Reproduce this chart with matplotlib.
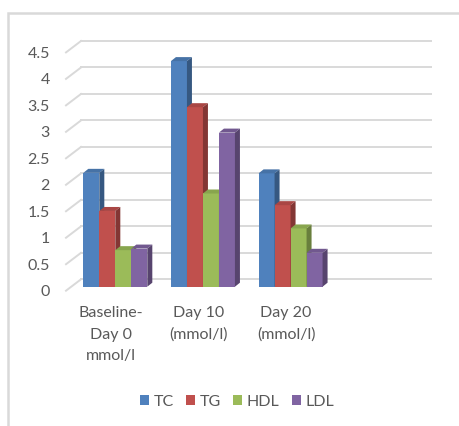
import numpy as np
import matplotlib
matplotlib.use("Agg")
import matplotlib.pyplot as plt
from matplotlib.patches import Polygon, Rectangle
from matplotlib.transforms import ScaledTranslation
from matplotlib.colors import to_rgb

plt.rcParams['font.family'] = ['Lato', 'DejaVu Sans']

categories = ['Baseline-\nDay 0\nmmol/l', 'Day 10\n(mmol/l)', 'Day 20\n(mmol/l)', '']
series = ['TC', 'TG', 'HDL', 'LDL']
tc = [2.15, 4.26, 2.14]
tg = [1.43, 3.39, 1.54]
hdl = [0.69, 1.76, 1.10]
ldl = [0.72, 2.91, 0.64]
colors = ['#4F81BD', '#C0504D', '#9BBB59', '#8064A2']
yticks = [0, 0.5, 1, 1.5, 2, 2.5, 3, 3.5, 4, 4.5]
ytick_labels = ['0', '0.5', '1', '1.5', '2', '2.5', '3', '3.5', '4', '4.5']

values = [tc, tg, hdl, ldl]
text_col = '#595959'
grid_col = '#D9D9D9'
fs = 11.5

W, H, dpi = 460, 426, 100
fig = plt.figure(figsize=(W / dpi, H / dpi), dpi=dpi)

# plot area in pixels (bar front plane)
x0_px, x1_px = 71.5, 422.0
y0_px, y1_px = 286.7, 48.4
ax = fig.add_axes([x0_px / W, 1 - y0_px / H, (x1_px - x0_px) / W, (y0_px - y1_px) / H])
ax.set_xlim(-0.5, 3.5)
ax.set_ylim(0, 4.5)
for s in ax.spines.values():
    s.set_visible(False)

px_x = (x1_px - x0_px) / 4.0   # pixels per category
px_y = (y0_px - y1_px) / 4.5   # pixels per unit

def dx(p):
    return p / px_x

def dy(p):
    return p / px_y

# gridlines: back wall plus the diagonal on the left side wall
for v in yticks:
    ax.plot([-0.5 + dx(9.5), 3.5 + dx(9.5)], [v + dy(7.4), v + dy(7.4)],
            color=grid_col, lw=1.4, clip_on=False, zorder=1)
    ax.plot([-0.5 - dx(5.5), -0.5 + dx(9.5)], [v - dy(4), v + dy(7.4)],
            color=grid_col, lw=1.4, clip_on=False, zorder=1)

def shade(c, f):
    r, g, b = to_rgb(c)
    return (r * f, g * f, b * f)

bw = 16 / px_x
ddx, ddy = dx(5), dy(4)
x = np.arange(3)
for i, (name, vals, col) in enumerate(zip(series, values, colors)):
    xs = x + (i - 1.5) * bw
    z = 3 + i
    ax.bar(xs, vals, width=bw, color=col, zorder=z, label=name, linewidth=0)
    for xc, h in zip(xs, vals):
        l, r = xc - bw / 2, xc + bw / 2
        top = Polygon([(l, h), (r, h), (r + ddx, h + ddy), (l + ddx, h + ddy)],
                      closed=True, facecolor=shade(col, 0.88), edgecolor='none', zorder=z)
        side = Polygon([(r, 0), (r + ddx, ddy), (r + ddx, h + ddy), (r, h)],
                       closed=True, facecolor=shade(col, 0.68), edgecolor='none', zorder=z)
        ax.add_patch(top)
        ax.add_patch(side)

ax.set_yticks(yticks)
ax.set_yticklabels(ytick_labels)
ax.set_xticks(np.arange(4))
ax.set_xticklabels(categories, linespacing=1.67)
ax.tick_params(axis='y', length=0, pad=15.5, labelsize=fs, labelcolor=text_col)
ax.tick_params(axis='x', length=0, pad=14, labelsize=fs, labelcolor=text_col)
for lab in ax.get_yticklabels():
    lab.set_transform(lab.get_transform() + ScaledTranslation(0, -4 / dpi, fig.dpi_scale_trans))
for lab in ax.get_xticklabels():
    lab.set_transform(lab.get_transform() + ScaledTranslation(-4.5 / dpi, 0, fig.dpi_scale_trans))

fig.legend(loc='center', bbox_to_anchor=(237 / W, 1 - 402 / H), ncol=4, frameon=False,
           handlelength=0.56, handleheight=0.56, handletextpad=0.31, columnspacing=0.75,
           fontsize=fs, labelcolor=text_col)

# chart border (top and left edges visible)
fig.add_artist(Rectangle((8 / W, -0.2), 1.5, 1 - 13 / H + 0.2, transform=fig.transFigure,
                         fill=False, edgecolor=grid_col, lw=1.8))

fig.savefig('out.png', dpi=dpi)
